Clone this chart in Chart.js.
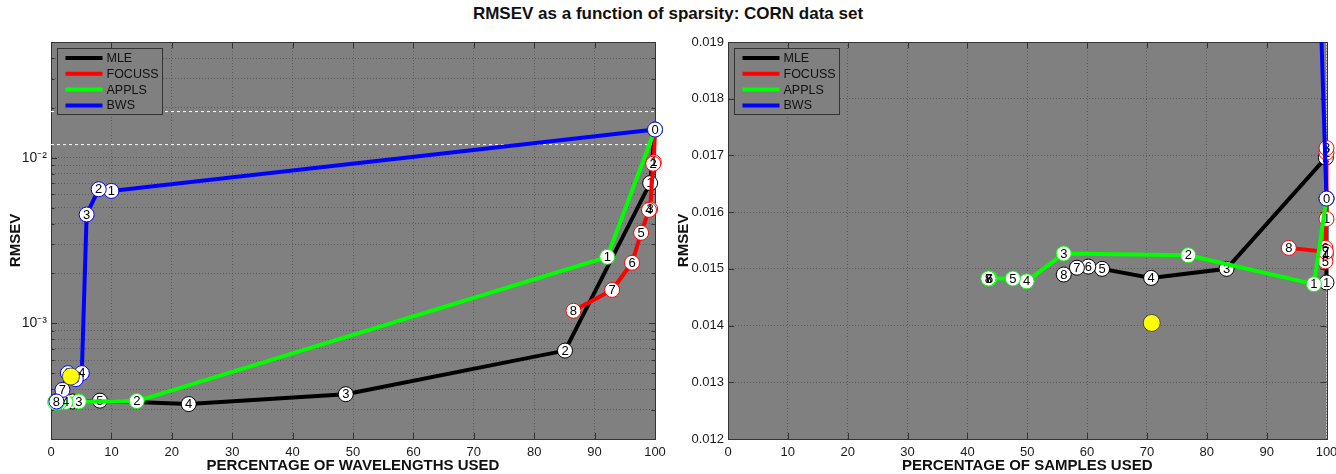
<!DOCTYPE html>
<html><head><meta charset="utf-8">
<script src="https://cdn.jsdelivr.net/npm/chart.js@4"></script>
<style>
body{margin:0;background:#fff;}
#wrap{position:relative;width:1336px;height:474px;overflow:hidden;background:#fff;}
#title{position:absolute;left:0;top:4px;width:1336px;text-align:center;font:bold 17px "Liberation Sans",Arial,sans-serif;color:#111;}
.pane{position:absolute;top:0;width:668px;height:474px;}
</style></head><body>
<div id="wrap">
<div id="title">RMSEV as a function of sparsity: CORN data set</div>
<div class="pane" style="left:0"><canvas id="c1" width="668" height="474"></canvas></div>
<div class="pane" style="left:668px"><canvas id="c2" width="668" height="474"></canvas></div>
</div>
<script>
// ---------- DATA ----------
const seriesNames  = ['MLE', 'FOCUSS', 'APPLS', 'BWS'];
const seriesColors = ['#000000', '#ff0000', '#00ff00', '#0000ff'];

// Left panel: percentage of wavelengths used vs RMSEV (log)
const wlMLE_x    = [100, 99.2, 85.1, 48.8, 22.8, 8.1, 3.6, 1.2, 0.8];
const wlMLE_y    = [0.0148, 0.00703, 0.000684, 0.000373, 0.000325, 0.000341, 0.000337, 0.000336, 0.000337];
const wlFOCUSS_x = [100, 99.8, 99.7, 99.2, 99.0, 97.7, 96.2, 92.9, 86.5];
const wlFOCUSS_y = [0.0148, 0.0094, 0.0092, 0.0049, 0.00484, 0.00352, 0.00232, 0.00159, 0.00119];
const wlAPPLS_x  = [100, 92.1, 14.2, 4.6, 2.4, 1.4, 1.0, 0.8, 0.7];
const wlAPPLS_y  = [0.0148, 0.00252, 0.000339, 0.000337, 0.000335, 0.000333, 0.000332, 0.000332, 0.000333];
const wlBWS_x    = [100, 10, 7.9, 5.9, 5.1, 4.1, 2.8, 1.9, 0.9];
const wlBWS_y    = [0.0148, 0.0063, 0.00645, 0.00454, 0.0005, 0.00046, 0.0005, 0.000396, 0.000337];
const wlYellow_x = [3.3];
const wlYellow_y = [0.000477];
const wlRefLevels = [0.012, 0.019];

// Right panel: percentage of samples used vs RMSEV (linear)
const smMLE_x    = [100, 100, 99.9, 83.3, 70.7, 62.5, 60.2, 58.3, 56.1];
const smMLE_y    = [0.01624, 0.01476, 0.01696, 0.0150, 0.01484, 0.0150, 0.01504, 0.01502, 0.0149];
const smFOCUSS_x = [100, 100, 100, 100, 99.9, 99.8, 99.8, 99.9, 93.7];
const smFOCUSS_y = [0.01624, 0.01588, 0.01705, 0.01713, 0.01525, 0.01513, 0.01537, 0.0153, 0.01537];
const smAPPLS_x  = [100, 97.9, 76.9, 56.1, 49.9, 47.6, 43.7, 43.6, 43.5];
const smAPPLS_y  = [0.01624, 0.01473, 0.01524, 0.01527, 0.01478, 0.01483, 0.01483, 0.01483, 0.01483];
const smBWS_x    = [100, 98.6];
const smBWS_y    = [0.01624, 0.0209];
const smYellow_x = [70.8];
const smYellow_y = [0.014046];

// Tick labels
const xTickStep = 10;
const leftYLabeled = [0.001, 0.01];
const leftYLabels  = ['10\u207B\u00B3', '10\u207B\u00B2'];
const rightYMin = 0.012, rightYMax = 0.019, rightYStep = 0.001;

// ---------- HELPERS ----------
const FONT = '"Liberation Sans", Arial, sans-serif';
const zip = (xs, ys) => xs.map((x, i) => ({x, y: ys[i]}));

function lineDs(label, color, xs, ys, order, clip) {
  return {
    label, data: zip(xs, ys), showLine: true, numbered: true,
    borderColor: color, backgroundColor: color, borderWidth: 4,
    pointRadius: 7.5, pointHoverRadius: 7.5, pointBackgroundColor: '#ffffff',
    pointBorderColor: color, pointBorderWidth: 1, tension: 0, order,
    clip: clip === undefined ? false : clip
  };
}
function yellowDs(xs, ys) {
  return { label: 'opt', data: zip(xs, ys), showLine: false,
    pointRadius: 8.5, pointHoverRadius: 8.5, pointBackgroundColor: '#ffff00',
    pointBorderColor: '#4a4a4a', pointBorderWidth: 1, order: 0, clip: false };
}
function refDs(level) {
  return { label: 'ref', data: [{x: 0, y: level}, {x: 100, y: level}], showLine: true,
    borderColor: '#ffffff', borderWidth: 1, borderDash: [3, 3], pointRadius: 0, order: 10 };
}

const framePlugin = {
  id: 'frame',
  beforeDraw(chart) {
    const {ctx, chartArea: a} = chart;
    ctx.save(); ctx.fillStyle = '#808080';
    ctx.fillRect(a.left, a.top, a.right - a.left, a.bottom - a.top);
    ctx.restore();
  },
  beforeDatasetsDraw(chart) {
    const {ctx, chartArea: a, scales} = chart;
    ctx.save();
    ctx.strokeStyle = '#333333'; ctx.lineWidth = 1;
    ctx.strokeRect(Math.round(a.left) + 0.5, Math.round(a.top) + 0.5, Math.round(a.right - a.left), Math.round(a.bottom - a.top));
    // inward tick marks
    ctx.beginPath();
    scales.x.ticks.forEach(t => {
      const px = Math.round(scales.x.getPixelForValue(t.value)) + 0.5;
      ctx.moveTo(px, a.bottom); ctx.lineTo(px, a.bottom - 6);
      ctx.moveTo(px, a.top); ctx.lineTo(px, a.top + 6);
    });
    const isLog = scales.y.type === 'logarithmic';
    scales.y.ticks.forEach(t => {
      const py = Math.round(scales.y.getPixelForValue(t.value)) + 0.5;
      let len = 6;
      if (isLog) { const m = t.value / Math.pow(10, Math.floor(Math.log10(t.value) + 1e-9)); len = Math.abs(m - 1) < 1e-6 ? 6 : 3.5; }
      ctx.moveTo(a.left, py); ctx.lineTo(a.left + len, py);
      ctx.moveTo(a.right, py); ctx.lineTo(a.right - len, py);
    });
    ctx.stroke();
    ctx.restore();
  },
  afterDatasetDraw(chart, args) {
    const ds = chart.data.datasets[args.index];
    if (!ds.numbered) return;
    const {ctx, chartArea: a} = chart;
    ctx.save();
    ctx.font = '13px ' + FONT; ctx.fillStyle = '#000';
    ctx.textAlign = 'center'; ctx.textBaseline = 'middle';
    args.meta.data.forEach((pt, i) => {
      if (pt.y < a.top - 3 || pt.y > a.bottom + 3) return;
      ctx.fillText(String(i), pt.x, pt.y + 0.5);
    });
    ctx.restore();
  },
  afterDatasetsDraw(chart) {
    const {ctx, chartArea: a} = chart;
    const bx = Math.round(a.left) + 6.5, by = Math.round(a.top) + 6.5, bw = 105, bh = 66;
    ctx.save();
    ctx.fillStyle = '#808080'; ctx.fillRect(bx, by, bw, bh);
    ctx.strokeStyle = '#333333'; ctx.lineWidth = 1; ctx.strokeRect(bx, by, bw, bh);
    ctx.font = '12.5px ' + FONT; ctx.textBaseline = 'middle'; ctx.textAlign = 'left';
    seriesNames.forEach((n, i) => {
      const y = by + 9.5 + i * 15.8;
      ctx.strokeStyle = seriesColors[i]; ctx.lineWidth = 4;
      ctx.beginPath(); ctx.moveTo(bx + 8, y); ctx.lineTo(bx + 45, y); ctx.stroke();
      ctx.fillStyle = '#111'; ctx.fillText(n, bx + 49, y + 0.5);
    });
    ctx.restore();
  }
};

const GRID = { color: 'rgba(55,55,55,0.5)', drawTicks: false, lineWidth: 1 };

function xScale(title) {
  return {
    type: 'linear', min: 0, max: 100,
    ticks: { stepSize: xTickStep, font: {size: 13, family: FONT}, color: '#1a1a1a', padding: 6, maxRotation: 0, autoSkip: false },
    grid: GRID,
    border: { color: '#333333', dash: [1, 2] },
    title: { display: true, text: title, font: {size: 15, weight: 'bold', family: FONT, lineHeight: 1}, color: '#111', padding: {top: 0, bottom: 0.5} },
    afterFit: s => { s.height = 35; s.paddingLeft = 0; s.paddingRight = 0; }
  };
}
function yTitle(pt) {
  return { display: true, text: 'RMSEV', font: {size: 15, weight: 'bold', family: FONT, lineHeight: 1}, color: '#111', padding: {top: pt, bottom: 0} };
}

// Left chart
const logTickVals = [];
for (let e = -4; e <= -2; e++) for (let m = 1; m <= 9; m++) {
  const v = parseFloat((m * Math.pow(10, e)).toPrecision(3));
  if (v >= 2e-4 - 1e-12 && v <= 5e-2 + 1e-12) logTickVals.push(v);
}
new Chart(document.getElementById('c1'), {
  type: 'line',
  data: { datasets: [
    refDs(wlRefLevels[0]), refDs(wlRefLevels[1]),
    lineDs(seriesNames[0], seriesColors[0], wlMLE_x, wlMLE_y, 4),
    lineDs(seriesNames[1], seriesColors[1], wlFOCUSS_x, wlFOCUSS_y, 3),
    lineDs(seriesNames[2], seriesColors[2], wlAPPLS_x, wlAPPLS_y, 2),
    lineDs(seriesNames[3], seriesColors[3], wlBWS_x, wlBWS_y, 1),
    yellowDs(wlYellow_x, wlYellow_y)
  ]},
  options: {
    responsive: false, animation: false, events: [],
    layout: { padding: {top: 42, right: 13, bottom: 0, left: 0} },
    plugins: { legend: {display: false}, tooltip: {enabled: false} },
    scales: {
      x: xScale('PERCENTAGE OF WAVELENGTHS USED'),
      y: {
        type: 'logarithmic', min: 2e-4, max: 5e-2,
        afterBuildTicks: s => { s.ticks = logTickVals.map(v => ({value: v})); },
        ticks: { autoSkip: false, font: {size: 14, family: FONT}, color: '#1a1a1a', padding: 4,
          callback: v => { const k = leftYLabeled.findIndex(t => Math.abs(t - v) / t < 1e-6); return k >= 0 ? leftYLabels[k] : ''; } },
        grid: GRID,
        border: { color: '#333333', dash: [1, 2] },
        title: yTitle(8),
        afterFit: s => { s.width = 51; s.paddingTop = 0; s.paddingBottom = 0; }
      }
    }
  },
  plugins: [framePlugin]
});

// Right chart
new Chart(document.getElementById('c2'), {
  type: 'line',
  data: { datasets: [
    lineDs(seriesNames[0], seriesColors[0], smMLE_x, smMLE_y, 4),
    lineDs(seriesNames[1], seriesColors[1], smFOCUSS_x, smFOCUSS_y, 3),
    lineDs(seriesNames[2], seriesColors[2], smAPPLS_x, smAPPLS_y, 2),
    lineDs(seriesNames[3], seriesColors[3], smBWS_x, smBWS_y, 1, {left: false, top: 0, right: false, bottom: false}),
    yellowDs(smYellow_x, smYellow_y)
  ]},
  options: {
    responsive: false, animation: false, events: [],
    layout: { padding: {top: 42, right: 6, bottom: 0, left: 0} },
    plugins: { legend: {display: false}, tooltip: {enabled: false} },
    scales: {
      x: xScale('PERCENTAGE OF SAMPLES USED'),
      y: {
        type: 'linear', min: rightYMin, max: rightYMax,
        ticks: { stepSize: rightYStep, autoSkip: false, font: {size: 13, family: FONT}, color: '#1a1a1a', padding: 4,
          callback: v => Number(v).toFixed(3) },
        grid: GRID,
        border: { color: '#333333', dash: [1, 2] },
        title: yTitle(8.5),
        afterFit: s => { s.width = 60; s.paddingTop = 0; s.paddingBottom = 0; }
      }
    }
  },
  plugins: [framePlugin]
});
</script>
</body></html>
